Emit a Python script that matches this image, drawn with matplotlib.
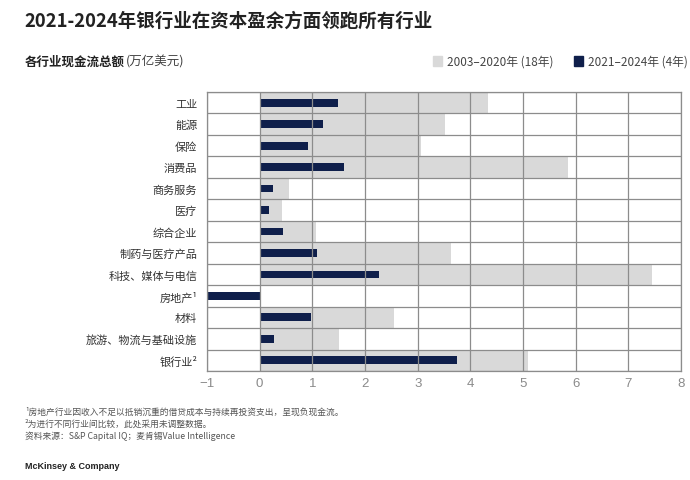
import matplotlib.pyplot as plt
import numpy as np

plt.rcParams['font.family'] = ['Noto Sans CJK SC', 'DejaVu Sans']

industries = ['工业', '能源', '保险', '消费品', '商务服务', '医疗', '综合企业',
              '制药与医疗产品', '科技、媒体与电信', '房地产¹', '材料',
              '旅游、物流与基础设施', '银行业²']
cash_2003_2020 = [4.34, 3.52, 3.06, 5.85, 0.56, 0.43, 1.07, 3.63, 7.45, 0.0, 2.55, 1.51, 5.09]
cash_2021_2024 = [1.48, 1.21, 0.91, 1.60, 0.26, 0.18, 0.45, 1.08, 2.27, -1.02, 0.98, 0.28, 3.75]
xticks = [-1, 0, 1, 2, 3, 4, 5, 6, 7, 8]

GRAY = '#d9d9d9'
NAVY = '#0f1f4b'
LINE = '#8c8c8c'

fig = plt.figure(figsize=(6.9, 4.81), dpi=100)
ax = fig.add_axes([0.30, 0.2266, 0.687, 0.58])

y = np.arange(len(industries))
ax.barh(y, cash_2003_2020, height=1.0, color=GRAY, zorder=1)
ax.barh(y, cash_2021_2024, height=0.36, color=NAVY, zorder=2)

ax.set_xlim(-1, 8)
ax.set_ylim(len(industries) - 0.5, -0.5)
ax.set_xticks(xticks)
ax.set_xticklabels([str(t).replace('-', '−') for t in xticks], fontsize=9.5,
                   color='#8a8a8a', family=['Liberation Sans', 'DejaVu Sans'])
ax.set_yticks(y)
ax.set_yticklabels(industries, fontsize=8, color='#333333')
ax.tick_params(axis='both', length=0)
ax.tick_params(axis='y', pad=7)
ax.tick_params(axis='x', pad=4)

# row separators and vertical grid on top of bars
for b in np.arange(-0.5, len(industries), 1.0):
    ax.axhline(b, color=LINE, lw=0.9, zorder=3)
for t in xticks:
    ax.axvline(t, color=LINE, lw=0.9, zorder=3)
for s in ax.spines.values():
    s.set_color(LINE)
    s.set_linewidth(0.9)
    s.set_zorder(4)

fig.text(0.036, 0.955, '2021-2024年银行业在资本盈余方面领跑所有行业', fontsize=13.3,
         fontweight='bold', color='#222222', va='center')
sub = fig.text(0.036, 0.871, '各行业现金流总额', fontsize=9, fontweight='bold',
               color='#222222', va='center')
fig.canvas.draw()
bb = sub.get_window_extent()
fig.text(bb.x1 / fig.bbox.width + 0.002, 0.871, '(万亿美元)', fontsize=9,
         color='#444444', va='center')

# legend
fig.patches.append(plt.Rectangle((0.628, 0.861), 0.013, 0.02, color=GRAY,
                                 transform=fig.transFigure, figure=fig))
fig.text(0.648, 0.871, '2003–2020年 (18年)', fontsize=8.5, color='#444444', va='center')
fig.patches.append(plt.Rectangle((0.832, 0.861), 0.013, 0.02, color=NAVY,
                                 transform=fig.transFigure, figure=fig))
fig.text(0.852, 0.871, '2021–2024年 (4年)', fontsize=8.5, color='#444444', va='center')

notes = ['¹房地产行业因收入不足以抵销沉重的借贷成本与持续再投资支出，呈现负现金流。',
         '²为进行不同行业间比较，此处采用未调整数据。',
         '资料来源：S&P Capital IQ；麦肯锡Value Intelligence']
for i, n in enumerate(notes):
    fig.text(0.036, 0.143 - i * 0.025, n, fontsize=6.3, color='#555555', va='center')

fig.text(0.036, 0.031, 'McKinsey & Company', fontsize=6.5, fontweight='bold',
         color='#222222', va='center', family=['Liberation Sans', 'DejaVu Sans'])

fig.savefig('out.png', dpi=100)
